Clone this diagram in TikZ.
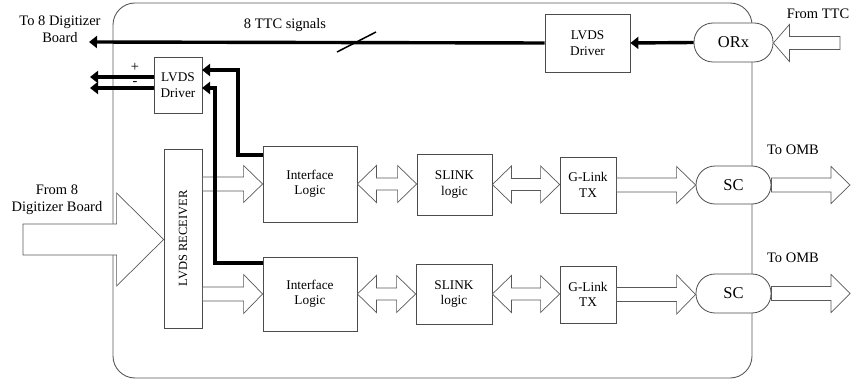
\documentclass[tikz,border=0pt]{standalone}
\usepackage{fontspec}
\setmainfont{Liberation Serif}
\usetikzlibrary{calc,arrows.meta}
\newcommand\fatarrow[5]{%
  \draw[hollow] let \p1=(#1), \p2=(#2) in
    (\x1,{\y1+#3}) -- ({\x2-(#5)},{\y1+#3}) -- ({\x2-(#5)},{\y1+#4}) -- (\x2,\y1)
    -- ({\x2-(#5)},{\y1-(#4)}) -- ({\x2-(#5)},{\y1-(#3)}) -- (\x1,{\y1-(#3)}) -- cycle;}
\newcommand\dblarrow[5]{%
  \draw[hollow] let \p1=(#1), \p2=(#2) in
    (\x1,\y1) -- ({\x1+#5},{\y1+#4}) -- ({\x1+#5},{\y1+#3}) -- ({\x2-#5},{\y1+#3})
    -- ({\x2-#5},{\y1+#4}) -- (\x2,\y1) -- ({\x2-#5},{\y1-(#4)}) -- ({\x2-#5},{\y1-(#3)})
    -- ({\x1+#5},{\y1-(#3)}) -- ({\x1+#5},{\y1-(#4)}) -- cycle;}
\tikzset{
  box/.style={draw=black!70, line width=0.8pt, fill=white, inner sep=0pt, align=center,
    font=\fontsize{13.3}{15.5}\selectfont},
  pill/.style={box, rounded corners=19pt, font=\fontsize{16.5}{18}\selectfont},
  hollow/.style={draw=black!65, line width=0.7pt, fill=white},
  thickarrow/.style={line width=3.4pt, -{Triangle[width=12pt,length=8pt]}},
  lbl/.style={align=center, inner sep=0pt, font=\fontsize{14.5}{17}\selectfont},
}
\begin{document}
\begin{tikzpicture}[x=1pt,y=-1pt]
\useasboundingbox (0,0) rectangle (856,379);
% outer frame
\node[draw=black!65, line width=0.9pt, rounded corners=22pt, minimum width=639pt, minimum height=375pt, inner sep=0pt] (frame) at (432.5,190.5) {};
% nodes
\node[box, minimum width=85pt, minimum height=58pt] (drvT) at (587.5,43) {LVDS\\Driver};
\node[pill, minimum width=79pt, minimum height=39pt] (orx) at (733.5,42.5) {ORx};
\node[box, minimum width=48pt, minimum height=56pt] (drvS) at (178,85) {LVDS\\Driver};
\node[box, minimum width=38pt, minimum height=179pt] (rcv) at (183,238.5) {};
\node[rotate=90, inner sep=0pt, font=\fontsize{12.5}{14}\selectfont] (rcvtxt) at (rcv) {LVDS RECEIVER};
\node[box, minimum width=94pt, minimum height=76pt] (il1) at (310,184) {Interface\\Logic};
\node[box, minimum width=94pt, minimum height=74pt] (il2) at (310,294) {Interface\\Logic};
\node[box, minimum width=75pt, minimum height=61pt] (sl1) at (454.5,184.5) {SLINK\\logic};
\node[box, minimum width=76pt, minimum height=60pt] (sl2) at (454,294) {SLINK\\logic};
\node[box, minimum width=56pt, minimum height=56pt] (gl1) at (588,185) {G-Link\\TX};
\node[box, minimum width=56pt, minimum height=57pt] (gl2) at (588,294.5) {G-Link\\TX};
\node[pill, minimum width=75pt, minimum height=38pt] (sc1) at (733.5,185) {SC};
\node[pill, minimum width=75pt, minimum height=39pt] (sc2) at (733.5,293.5) {SC};
% labels
\node[lbl] (lTo8) at (60,29) {To 8 Digitizer\\Board};
\node[lbl] (lTTC) at (285,25) {8 TTC signals};
\node[lbl] (lFromTTC) at (818,14) {From TTC};
\node[lbl] (lFrom8) at (57,200) {From 8\\Digitizer Board};
\node[lbl] (lOMB1) at (793,150) {To OMB};
\node[lbl] (lOMB2) at (793,258) {To OMB};
\node[lbl] (lplus) at (135,67) {+};
\node[lbl] (lminus) at (135,84) {-};
% coordinates
\coordinate (toDig) at (89,42);
\coordinate (ttcIn) at (840,43);
\coordinate (digIn) at (23,239.5);
\coordinate (out1) at (850,185);
\coordinate (out2) at (850,294);
\coordinate (o1) at (90,77);
\coordinate (o2) at (90,88);
\coordinate (in1) at (202,70);
\coordinate (in2) at (202,88);
\coordinate (k1) at (238,155);
\coordinate (k2) at (215,263);
\coordinate (sa) at (337,52);
\coordinate (sb) at (376,32);
% hollow arrows
\fatarrow{ttcIn}{orx.east}{6.5pt}{18.5pt}{-16pt}
\fatarrow{digIn}{rcv.west}{15.5pt}{46.5pt}{47pt}
\fatarrow{rcv.east |- il1}{il1.west}{7pt}{18.5pt}{19pt}
\fatarrow{rcv.east |- il2}{il2.west}{7pt}{19.5pt}{19pt}
\fatarrow{gl1.east}{sc1.west}{7pt}{18.5pt}{19pt}
\fatarrow{gl2.east}{sc2.west}{7pt}{19.5pt}{19pt}
\fatarrow{sc1.east}{out1}{7pt}{18.5pt}{19pt}
\fatarrow{sc2.east}{out2}{7pt}{19pt}{19pt}
\dblarrow{il1.east}{sl1.west}{6pt}{18.5pt}{19pt}
\dblarrow{il2.east}{sl2.west}{6pt}{18.5pt}{19pt}
\dblarrow{sl1.east}{gl1.west}{6pt}{18.5pt}{19pt}
\dblarrow{sl2.east}{gl2.west}{6pt}{18.5pt}{19pt}
% thick signal lines
\draw[thickarrow] (drvT.west) -- (toDig);
\draw[thickarrow] (orx.west) -- (drvT.east);
\draw[thickarrow] (drvS.west |- o1) -- (o1);
\draw[thickarrow] (drvS.west |- o2) -- (o2);
\draw[thickarrow] (il1.west |- k1) -- (k1) |- (in1);
\draw[thickarrow] (il2.west |- k2) -- (k2) |- (in2);
\draw[line width=1.5pt] (sa) -- (sb);
\end{tikzpicture}
\end{document}
